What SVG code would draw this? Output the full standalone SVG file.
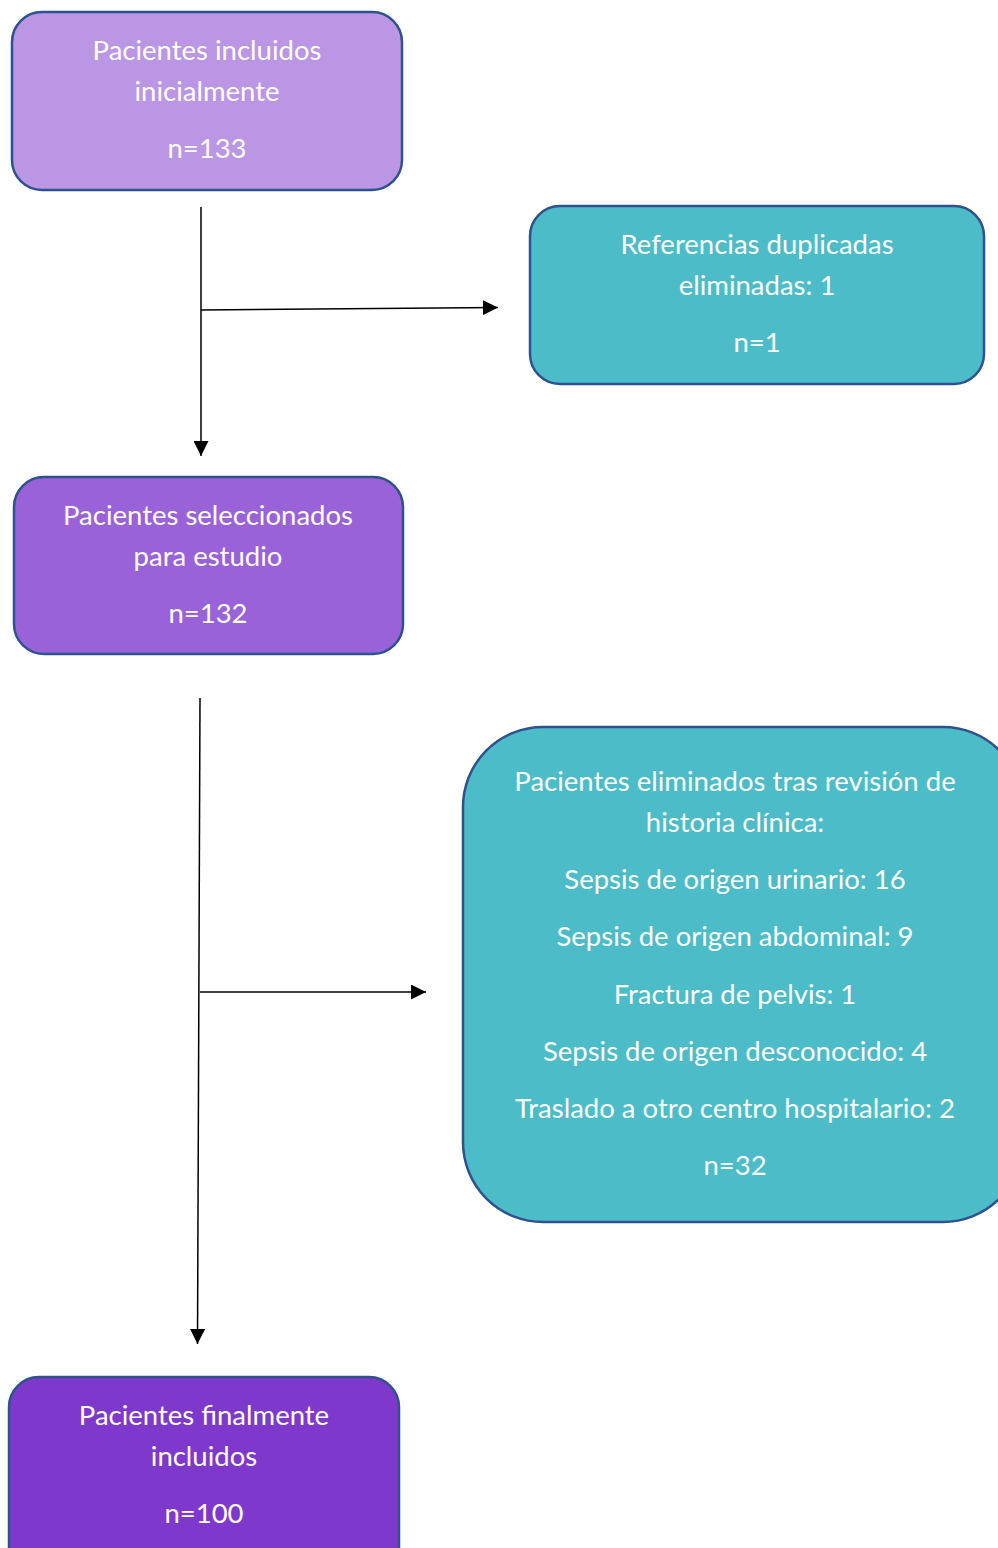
<svg xmlns="http://www.w3.org/2000/svg" width="998" height="1548" viewBox="0 0 998 1548">
<defs>
<marker id="ah" viewBox="0 0 10 10" refX="10" refY="5" markerWidth="15" markerHeight="15" markerUnits="userSpaceOnUse" orient="auto">
<path d="M0,0 L10,5 L0,10 Z" fill="#000"/>
</marker>
<style>
.box{stroke:#2F528F;stroke-width:2.5}
.t{font-family:Lato,"Open Sans",sans-serif;font-size:27.5px;fill:#fff;text-anchor:middle}
.c{stroke:#000;stroke-width:1.5;fill:none}
</style>
</defs>
<rect width="998" height="1548" fill="#fff"/>
<g id="connectors">
<line class="c" x1="201" y1="207" x2="201" y2="456" marker-end="url(#ah)"/>
<line class="c" x1="201" y1="310" x2="498" y2="307.5" marker-end="url(#ah)"/>
<line class="c" x1="200" y1="698" x2="197.5" y2="1344" marker-end="url(#ah)"/>
<line class="c" x1="200" y1="992" x2="426" y2="992" marker-end="url(#ah)"/>
</g>
<g id="node1">
<rect class="box" x="12" y="12" width="390" height="178" rx="30" fill="#BA96E4"/>
<text class="t" x="207" y="60">Pacientes incluidos</text>
<text class="t" x="207" y="101">inicialmente</text>
<text class="t" x="207" y="158">n=133</text>
</g>
<g id="node2">
<rect class="box" x="530" y="206" width="454" height="178" rx="30" fill="#4BBCC8"/>
<text class="t" x="757" y="254">Referencias duplicadas</text>
<text class="t" x="757" y="295">eliminadas: 1</text>
<text class="t" x="757" y="352">n=1</text>
</g>
<g id="node3">
<rect class="box" x="14" y="477" width="389" height="177" rx="30" fill="#9A62D8"/>
<text class="t" x="208" y="525">Pacientes seleccionados</text>
<text class="t" x="208" y="566">para estudio</text>
<text class="t" x="208" y="623">n=132</text>
</g>
<g id="node4">
<rect class="box" x="463" y="727" width="560" height="495" rx="80" fill="#4BBCC8"/>
<text class="t" x="735" y="791">Pacientes eliminados tras revisión de</text>
<text class="t" x="735" y="832">historia clínica:</text>
<text class="t" x="735" y="889">Sepsis de origen urinario: 16</text>
<text class="t" x="735" y="946">Sepsis de origen abdominal: 9</text>
<text class="t" x="735" y="1004">Fractura de pelvis: 1</text>
<text class="t" x="735" y="1061">Sepsis de origen desconocido: 4</text>
<text class="t" x="735" y="1118">Traslado a otro centro hospitalario: 2</text>
<text class="t" x="735" y="1175">n=32</text>
</g>
<g id="node5">
<rect class="box" x="9" y="1377" width="390" height="200" rx="30" fill="#7F38CC"/>
<text class="t" x="204" y="1425">Pacientes finalmente</text>
<text class="t" x="204" y="1466">incluidos</text>
<text class="t" x="204" y="1523">n=100</text>
</g>
</svg>
